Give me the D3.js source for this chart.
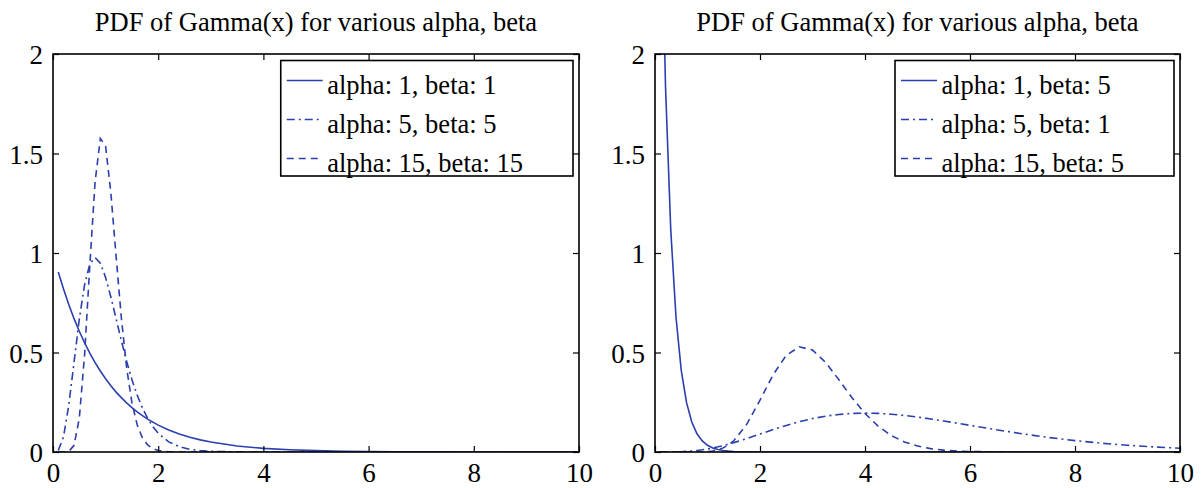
<!DOCTYPE html>
<html><head><meta charset="utf-8">
<script src="https://cdn.jsdelivr.net/npm/d3@7/dist/d3.min.js"></script>
<style>
body{margin:0;background:#fff;}
svg{display:block;}
svg text{font-family:'Liberation Serif','DejaVu Serif',serif;}
</style></head><body>
<svg id="chart" width="1202" height="488"></svg>
<script>
// ---------- data ----------
const titleText = "PDF of Gamma(x) for various alpha, beta";
const xTicks = [0, 2, 4, 6, 8, 10];
const yTicks = [0, 0.5, 1, 1.5, 2];
const xDomain = [0, 10];
const yDomain = [0, 2];

const leftX = [0.1,0.2,0.3,0.4,0.5,0.6,0.7,0.8,0.9,1.0,1.1,1.2,1.3,1.4,1.5,1.6,1.7,1.8,1.9,2.0,
  2.2,2.4,2.6,2.8,3.0,3.5,4,4.5,5,5.5,6,6.5,7,7.5,8,8.5,9,9.5,10];
const leftA1B1 = [0.905,0.819,0.741,0.670,0.607,0.549,0.497,0.449,0.407,0.368,0.333,0.301,0.273,0.247,0.223,0.202,0.183,0.165,0.150,0.135,
  0.111,0.091,0.074,0.061,0.050,0.030,0.018,0.011,0.0067,0.0041,0.0025,0.0015,0.0009,0.0006,0.0003,0.0002,0.0001,0.0001,0.0000];
const leftA5B5 = [0.0079,0.0766,0.2353,0.4511,0.668,0.8402,0.944,0.9768,0.949,0.8773,0.7791,0.6693,0.5591,0.4561,0.3646,0.2863,0.2213,0.1687,0.127,0.0946,
  0.0509,0.0265,0.0135,0.0067,0.0032,0.0005,0.0001,0,0,0,0,0,0,0,0,0,0,0,0];
const leftA15B15 = [0,0.00004,0.0027,0.0334,0.1695,0.4858,0.9381,1.3574,1.5755,1.5366,1.302,0.9823,0.6721,0.4233,0.2481,0.1367,0.0712,0.0354,0.0168,0.0077,
  0.0015,0.0002,0,0,0,0,0,0,0,0,0,0,0,0,0,0,0,0,0];
const leftLabels = ["alpha: 1, beta: 1", "alpha: 5, beta: 5", "alpha: 15, beta: 15"];

const rightX = [0.1,0.2,0.3,0.4,0.5,0.6,0.7,0.8,0.9,1.0,1.1,1.2,1.3,1.4,1.5,
  1.75,2,2.25,2.5,2.75,3,3.25,3.5,3.75,4,4.25,4.5,4.75,5,5.25,5.5,5.75,6,
  6.5,7,7.5,8,8.5,9,9.5,10];
const rightA1B5 = [3.033,1.839,1.116,0.677,0.410,0.249,0.151,0.0916,0.0555,0.0337,0.0204,0.0124,0.0075,0.0046,0.0028,
  0.0008,0.0002,0,0,0,0,0,0,0,0,0,0,0,0,0,0,0,0,
  0,0,0,0,0,0,0,0];
const rightA5B1 = [0.0000,0.0001,0.0003,0.0007,0.0016,0.003,0.005,0.0077,0.0111,0.0153,0.0203,0.026,0.0324,0.0395,0.0471,
  0.0679,0.0902,0.1126,0.1336,0.1523,0.168,0.1802,0.1888,0.1938,0.1954,0.1939,0.1898,0.1835,0.1755,0.1661,0.1558,0.145,0.1339,
  0.1118,0.0912,0.0729,0.0573,0.0443,0.0337,0.0254,0.0189];
const rightA15B5 = [0,0,0,0,0,0,0.0001,0.0003,0.0009,0.0024,0.0054,0.0111,0.0207,0.0355,0.0565,
  0.1401,0.2604,0.3881,0.486,0.5288,0.5122,0.45,0.3639,0.2739,0.1937,0.1297,0.0827,0.0505,0.0297,0.0168,0.0093,0.0049,0.0026,
  0.0007,0.0002,0,0,0,0,0,0];
const rightLabels = ["alpha: 1, beta: 5", "alpha: 5, beta: 1", "alpha: 15, beta: 5"];

const lineStyles = ["solid", "dashdot", "dashed"];

// ---------- drawing ----------
const FONT = "'Liberation Serif', 'DejaVu Serif', serif";
const svg = d3.select("#chart");
const color = "#2b3fae";
const dashes = {solid: null, dashdot: "8,4,2,4", dashed: "7,5"};
const plotTop = 54, plotBottom = 452;

const panels = [
  {x0: 53, x1: 579, xs: leftX, series: [leftA1B1, leftA5B5, leftA15B15], labels: leftLabels},
  {x0: 655, x1: 1180, xs: rightX, series: [rightA1B5, rightA5B1, rightA15B5], labels: rightLabels}
];

panels.forEach((p, pi) => {
  const x = d3.scaleLinear().domain(xDomain).range([p.x0, p.x1]);
  const y = d3.scaleLinear().domain(yDomain).range([plotBottom, plotTop]);
  const g = svg.append("g");

  const cid = "clip" + pi;
  svg.append("clipPath").attr("id", cid).append("rect")
    .attr("x", p.x0).attr("y", plotTop).attr("width", p.x1 - p.x0).attr("height", plotBottom - plotTop);

  const line = d3.line().x(d => x(d[0])).y(d => y(d[1]));
  const lg = g.append("g").attr("clip-path", `url(#${cid})`);
  p.series.forEach((s, i) => {
    lg.append("path")
      .attr("d", line(p.xs.map((xv, k) => [xv, s[k]])))
      .attr("fill", "none").attr("stroke", color).attr("stroke-width", 1.6)
      .attr("stroke-dasharray", dashes[lineStyles[i]]);
  });

  const styleAxis = (sel) => {
    sel.attr("font-family", FONT).attr("font-size", 27);
    sel.select(".domain").remove();
    sel.selectAll(".tick line").attr("stroke", "#000").attr("stroke-width", 1.2);
    sel.selectAll(".tick text").attr("fill", "#000").style("font-family", FONT).style("font-size", "27px");
  };
  g.append("g").attr("transform", `translate(0,${plotBottom})`)
    .call(d3.axisBottom(x).tickValues(xTicks).tickSize(-6).tickPadding(11).tickFormat(d3.format("d")))
    .call(styleAxis);
  g.append("g").attr("transform", `translate(0,${plotTop})`)
    .call(d3.axisTop(x).tickValues(xTicks).tickSize(-6).tickFormat(""))
    .call(styleAxis);
  g.append("g").attr("transform", `translate(${p.x0},0)`)
    .call(d3.axisLeft(y).tickValues(yTicks).tickSize(-6).tickPadding(10).tickFormat(d => String(d)))
    .call(styleAxis)
    .call(sel => sel.selectAll(".tick text").attr("dy", "0.36em"));
  g.append("g").attr("transform", `translate(${p.x1},0)`)
    .call(d3.axisRight(y).tickValues(yTicks).tickSize(-6).tickFormat(""))
    .call(styleAxis);

  g.append("rect").attr("x", p.x0).attr("y", plotTop).attr("width", p.x1 - p.x0).attr("height", plotBottom - plotTop)
    .attr("fill", "none").attr("stroke", "#000").attr("stroke-width", 1.6);

  g.append("text").attr("x", (p.x0 + p.x1) / 2).attr("y", 31).attr("text-anchor", "middle")
    .style("font-family", FONT).style("font-size", "26.5px").attr("fill", "#000").text(titleText);

  const leg = g.append("g");
  const rowY = [80.5, 119.5, 158.5];
  const texts = p.labels.map((lab, i) => leg.append("text").attr("y", rowY[i] + 13)
    .style("font-family", FONT).style("font-size", "26.5px").attr("fill", "#000").text(lab));
  const maxW = d3.max(texts, t => t.node().getComputedTextLength());
  const boxW = 6 + 36 + 4.5 + maxW + 50;
  const bx = p.x1 - 6 - boxW;
  leg.insert("rect", ":first-child").attr("x", bx).attr("y", 60.5).attr("width", boxW).attr("height", 115.5)
    .attr("fill", "#fff").attr("stroke", "#000").attr("stroke-width", 1.6);
  texts.forEach(t => t.attr("x", bx + 6 + 36 + 4.5));
  p.labels.forEach((lab, i) => {
    leg.append("line").attr("x1", bx + 6).attr("x2", bx + 42).attr("y1", rowY[i]).attr("y2", rowY[i])
      .attr("stroke", color).attr("stroke-width", 1.6).attr("stroke-dasharray", dashes[lineStyles[i]]);
  });
});
</script>
</body></html>
